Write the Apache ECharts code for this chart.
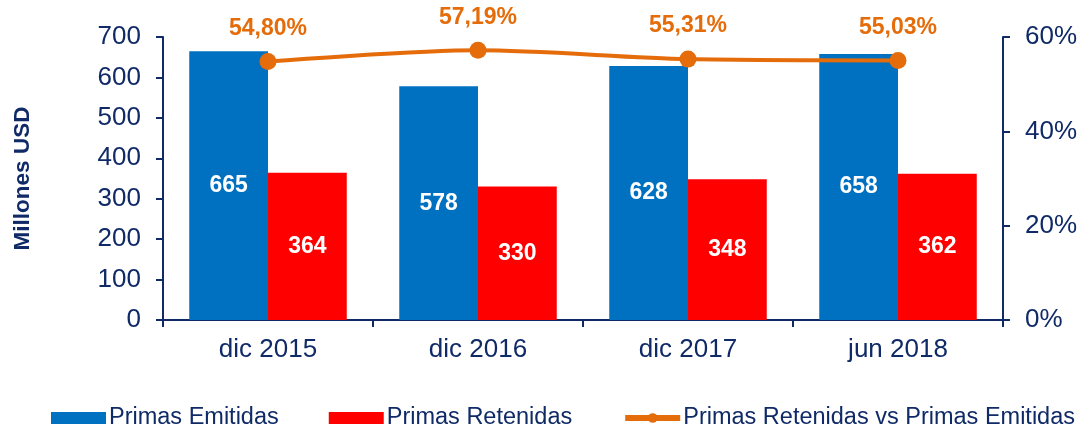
<!DOCTYPE html>
<html>
<head>
<meta charset="utf-8">
<script src="https://cdn.jsdelivr.net/npm/echarts@6/dist/echarts.min.js"></script>
<style>
html, body { margin: 0; padding: 0; background: #fff; }
#chart { width: 1086px; height: 425px; }
</style>
</head>
<body>
<div id="chart"></div>
<script>
var categories = ['dic 2015', 'dic 2016', 'dic 2017', 'jun 2018'];
var primasEmitidas = [665, 578, 628, 658];
var primasRetenidas = [364, 330, 348, 362];
var ratio = [54.80, 57.19, 55.31, 55.03];

var navy = '#0f2a66';
var myChart = echarts.init(document.getElementById('chart'));

var axisFont = { color: navy, fontSize: 26, fontFamily: 'Liberation Sans, Arial, sans-serif' };

option = {
    backgroundColor: '#ffffff',
    textStyle: { fontFamily: 'Liberation Sans, Arial, sans-serif' },
    grid: { left: 163, right: 83, top: 37, bottom: 105 },
    legend: {
        top: 401,
        left: 46,
        itemWidth: 55,
        itemHeight: 12,
        itemGap: 50,
        textStyle: { color: navy, fontSize: 23.5, padding: [0, 0, 0, -2] },
        data: [
            { name: 'Primas Emitidas', icon: 'rect' },
            { name: 'Primas Retenidas', icon: 'rect' },
            { name: 'Primas Retenidas vs Primas Emitidas', lineStyle: { width: 6 } }
        ]
    },
    xAxis: {
        type: 'category',
        data: categories,
        axisLine: { lineStyle: { color: navy, width: 2 } },
        axisTick: { show: true, length: 7, lineStyle: { color: navy, width: 2 } },
        axisLabel: Object.assign({ margin: 17 }, axisFont)
    },
    yAxis: [
        {
            type: 'value',
            min: 0,
            max: 700,
            interval: 100,
            name: 'Millones USD',
            nameLocation: 'middle',
            nameRotate: 90,
            nameGap: 129,
            nameTextStyle: { color: navy, fontSize: 22.5, fontWeight: 'bold' },
            axisLine: { show: true, lineStyle: { color: navy, width: 2 } },
            axisTick: { show: true, length: 7, lineStyle: { color: navy, width: 2 } },
            splitLine: { show: false },
            axisLabel: Object.assign({ margin: 22 }, axisFont)
        },
        {
            type: 'value',
            min: 0,
            max: 60,
            interval: 20,
            position: 'right',
            axisLine: { show: true, lineStyle: { color: navy, width: 2 } },
            axisTick: { show: true, length: 7, lineStyle: { color: navy, width: 2 } },
            splitLine: { show: false },
            axisLabel: Object.assign({ margin: 22, formatter: '{value}%' }, axisFont)
        }
    ],
    series: [
        {
            name: 'Primas Emitidas',
            type: 'bar',
            data: primasEmitidas,
            barWidth: '37.5%',
            barGap: '0%',
            itemStyle: { color: '#0070c0' },
            label: {
                show: true,
                position: 'inside',
                color: '#ffffff',
                fontSize: 23,
                fontWeight: 'bold'
            }
        },
        {
            name: 'Primas Retenidas',
            type: 'bar',
            data: primasRetenidas,
            barWidth: '37.5%',
            barGap: '0%',
            itemStyle: { color: '#ff0000' },
            label: {
                show: true,
                position: 'inside',
                color: '#ffffff',
                fontSize: 23,
                fontWeight: 'bold'
            }
        },
        {
            name: 'Primas Retenidas vs Primas Emitidas',
            type: 'line',
            yAxisIndex: 1,
            data: ratio,
            smooth: 0.3,
            symbol: 'circle',
            symbolSize: 17,
            z: 5,
            lineStyle: { color: '#e46c0a', width: 4 },
            itemStyle: { color: '#e46c0a' },
            label: {
                show: true,
                position: 'top',
                distance: 13,
                color: '#e46c0a',
                fontSize: 23,
                fontWeight: 'bold',
                formatter: function (p) {
                    return p.value.toFixed(2).replace('.', ',') + '%';
                }
            }
        }
    ]
};
myChart.setOption(option);
</script>
</body>
</html>
